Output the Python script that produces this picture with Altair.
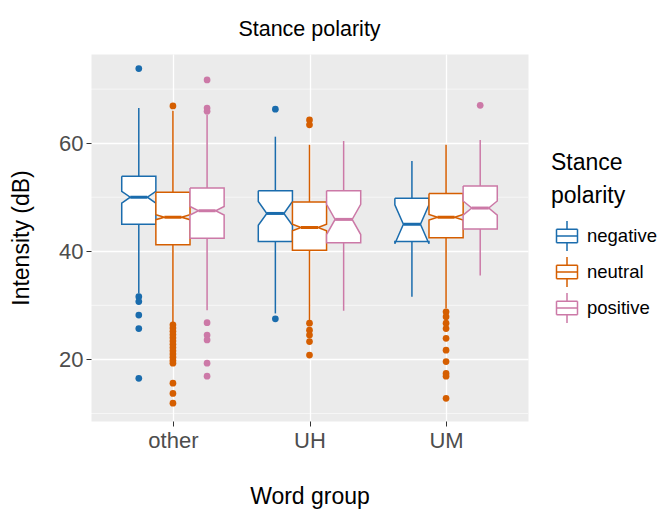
import altair as alt
import pandas as pd

groups = ["other", "UH", "UM"]
polarities = ["negative", "neutral", "positive"]
colors = ["#1A6CAD", "#D55E00", "#CC79A7"]

# per group (rows) x polarity (columns)
q1 = [[45.0, 41.2, 42.4], [41.8, 40.2, 41.6], [41.8, 42.5, 44.1]]
median = [[50.0, 46.3, 47.5], [47.0, 44.4, 45.9], [45.0, 46.3, 48.0]]
q3 = [[53.9, 50.9, 51.7], [51.2, 49.1, 51.2], [49.8, 50.7, 52.1]]
notch = [[1.1, 0.45, 0.8], [2.2, 0.6, 2.8], [3.6, 0.5, 1.3]]
whisker_lo = [[32.2, 26.7, 29.1], [28.5, 27.0, 29.0], [31.6, 29.4, 35.5]]
whisker_hi = [[66.5, 66.0, 65.2], [61.2, 59.7, 60.4], [56.7, 59.7, 60.6]]
outliers = [
    [
        [73.8, 31.6, 30.7, 28.2, 25.7, 16.5],
        [66.9, 26.4, 25.8, 25.2, 24.6, 24.0, 23.4, 22.8, 22.2, 21.6, 21.0, 20.4,
         19.8, 19.3, 15.6, 13.7, 11.9],
        [71.7, 66.5, 65.9, 26.8, 24.5, 23.6, 19.3, 16.9],
    ],
    [
        [66.3, 27.5],
        [64.3, 63.4, 26.7, 25.4, 24.5, 23.3, 20.8],
        [],
    ],
    [
        [],
        [28.8, 27.9, 26.7, 25.7, 23.9, 21.7, 19.6, 17.4, 16.9, 12.8],
        [67.0],
    ],
]
minor_grid = [10, 30, 50, 70]

offsets = [-0.25, 0.0, 0.25]
hw = 0.125
FONT = "Liberation Sans"

box_rows, whisk_rows, med_rows, pt_rows = [], [], [], []
for gi, g in enumerate(groups):
    for pi, p in enumerate(polarities):
        c = gi + 1 + offsets[pi]
        bid = f"{g}-{p}"
        lo, md, hi, n = q1[gi][pi], median[gi][pi], q3[gi][pi], notch[gi][pi]
        hn, ln = md + n, md - n
        path = [
            (c - hw, hi), (c + hw, hi), (c + hw, hn), (c + hw / 2, md),
            (c + hw, ln), (c + hw, lo), (c - hw, lo), (c - hw, ln),
            (c - hw / 2, md), (c - hw, hn), (c - hw, hi),
        ]
        for k, (x, v) in enumerate(path):
            box_rows.append(dict(box=bid, polarity=p, k=k, x=x, v=v))
        whisk_rows.append(dict(polarity=p, x=c, v=lo, v2=whisker_lo[gi][pi]))
        whisk_rows.append(dict(polarity=p, x=c, v=hi, v2=whisker_hi[gi][pi]))
        med_rows.append(dict(polarity=p, xl=c - hw / 2, xr=c + hw / 2, v=md))
        for o in outliers[gi][pi]:
            pt_rows.append(dict(polarity=p, x=c, v=o))

box_df = pd.DataFrame(box_rows)
whisk_df = pd.DataFrame(whisk_rows)
med_df = pd.DataFrame(med_rows)
pt_df = pd.DataFrame(pt_rows)
grid_df = pd.DataFrame({"v": minor_grid})

label_expr = "[" + ",".join(f"'{g}'" for g in groups) + "][datum.value-1]"

xscale = alt.Scale(domain=[0.4, 3.6], nice=False, zero=False)
yscale = alt.Scale(domain=[8.6, 76.5], nice=False, zero=False)
xaxis = alt.Axis(values=[1, 2, 3], labelExpr=label_expr, title="Word group",
                 grid=True, gridColor="white", gridWidth=1.3, domain=False,
                 tickColor="#333333", tickSize=5, labelFontSize=22,
                 labelColor="#4D4D4D", labelPadding=4, labelFont=FONT,
                 titleFont=FONT, titleFontSize=23, titleFontWeight="normal",
                 titleColor="black", titlePadding=34)
yaxis = alt.Axis(values=[20, 40, 60], title="Intensity (dB)", grid=True,
                 gridColor="white", gridWidth=1.3, domain=False,
                 tickColor="#333333", tickSize=5, labelFontSize=22,
                 labelColor="#4D4D4D", labelPadding=3, labelFont=FONT,
                 titleFont=FONT, titleFontSize=23, titleFontWeight="normal",
                 titleColor="black", titlePadding=25)

stroke_scale = alt.Scale(domain=polarities, range=colors)

# boxplot key drawn only from straight open segments, so it has no filled area
glyph = ("M-0.7,-0.45H0.7 M0.7,-0.45V0.45 M0.7,0.45H-0.7 M-0.7,0.45V-0.45 "
         "M-0.7,0H0.7 M0,-0.45V-1 M0,0.45V1")

grid_layer = alt.Chart(grid_df).mark_rule(color="white", strokeWidth=0.6).encode(
    y=alt.Y("v:Q", scale=yscale, axis=yaxis)
)

whisk_layer = alt.Chart(whisk_df).mark_rule(strokeWidth=1.5).encode(
    x=alt.X("x:Q", scale=xscale, axis=xaxis),
    y=alt.Y("v:Q", scale=yscale, axis=yaxis),
    y2="v2:Q",
    stroke=alt.Stroke("polarity:N", scale=stroke_scale,
                      legend=alt.Legend(
                          title=["Stance", "polarity"],
                          symbolType=glyph, symbolSize=900,
                          symbolFillColor="white", symbolStrokeWidth=1.5,
                      )),
)

box_layer = alt.Chart(box_df).mark_line(
    fill="white", strokeWidth=1.5, strokeJoin="miter"
).encode(
    x=alt.X("x:Q", scale=xscale, axis=xaxis),
    y=alt.Y("v:Q", scale=yscale, axis=yaxis),
    stroke=alt.Stroke("polarity:N", scale=stroke_scale, legend=None),
    detail="box:N",
    order="k:Q",
)

med_layer = alt.Chart(med_df).mark_rule(strokeWidth=3).encode(
    x=alt.X("xl:Q", scale=xscale, axis=xaxis),
    x2="xr:Q",
    y=alt.Y("v:Q", scale=yscale, axis=yaxis),
    stroke=alt.Stroke("polarity:N", scale=stroke_scale, legend=None),
)

pt_layer = alt.Chart(pt_df).mark_circle(size=45, opacity=1).encode(
    x=alt.X("x:Q", scale=xscale, axis=xaxis),
    y=alt.Y("v:Q", scale=yscale, axis=yaxis),
    color=alt.Color("polarity:N", scale=alt.Scale(domain=polarities, range=colors),
                    legend=None),
)

chart = alt.layer(grid_layer, whisk_layer, box_layer, med_layer, pt_layer).properties(
    width=437,
    height=367,
    autosize=alt.AutoSizeParams(type="none"),
    padding={"left": 83, "top": 46, "right": 130, "bottom": 94},
    title=alt.TitleParams("Stance polarity", fontSize=21.5, font=FONT,
                          fontWeight="normal", color="black", anchor="middle",
                          offset=14),
).configure_view(
    fill="#EBEBEB", stroke="transparent"
).configure_legend(
    orient="none", legendX=460, legendY=98,
    titleFont=FONT, titleFontSize=23, titleFontWeight="normal", titleColor="black",
    titleLineHeight=33, titlePadding=12,
    labelFont=FONT, labelFontSize=18.5, labelColor="black", labelOffset=4,
    rowPadding=0,
)

chart.save("out.html", embed_options={"renderer": "svg", "actions": False})
